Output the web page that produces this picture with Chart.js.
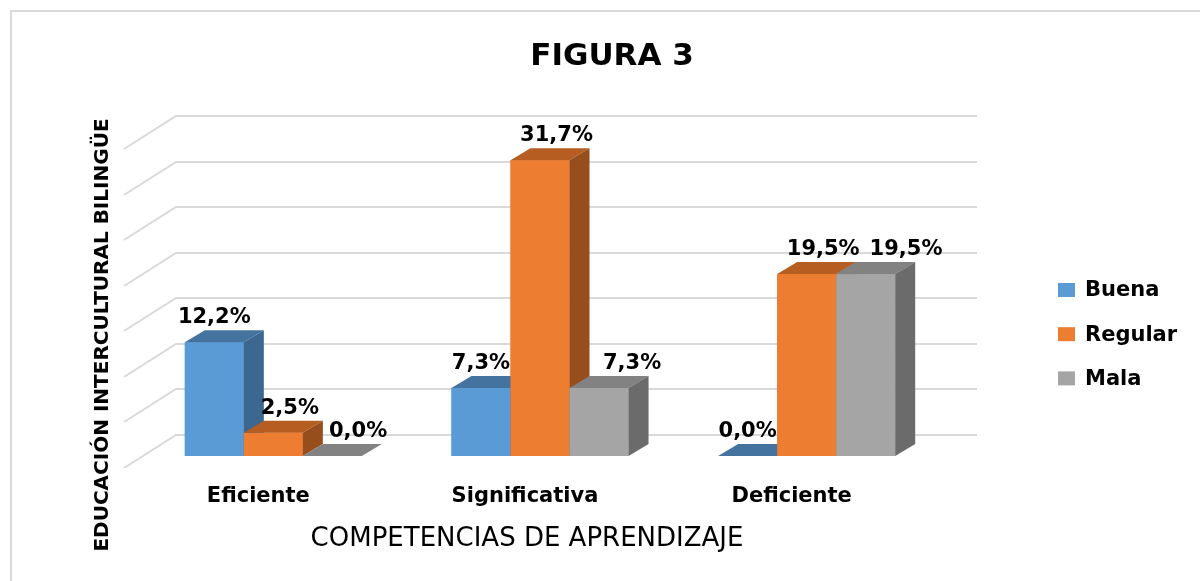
<!DOCTYPE html>
<html>
<head>
<meta charset="utf-8">
<script src="https://cdn.jsdelivr.net/npm/chart.js@4.4.1/dist/chart.umd.min.js"></script>
<style>
  html, body { margin: 0; padding: 0; background: #ffffff; overflow: hidden; }
  #wrap { width: 1200px; height: 581px; }
  canvas { display: block; }
</style>
</head>
<body>
<div id="wrap"><canvas id="c" width="1200" height="581"></canvas></div>
<script>
// ---- data ----
const categories = ['Eficiente', 'Significativa', 'Deficiente'];
const seriesNames = ['Buena', 'Regular', 'Mala'];
const buena = [12.2, 7.3, 0.0];
const regular = [2.5, 31.7, 19.5];
const mala = [0.0, 7.3, 19.5];
const wallTicks = [0, 5, 10, 15, 20, 25, 30, 35];
const chartTitle = 'FIGURA 3';
const xTitle = 'COMPETENCIAS DE APRENDIZAJE';
const yTitle = 'EDUCACIÓN INTERCULTURAL BILINGÜE';

// ---- styles ----
const frontColors = ['#5B9BD5', '#ED7D31', '#A5A5A5'];
const topColors = ['#44739F', '#B65D22', '#828282'];
const sideColors = ['#3B6791', '#974E1D', '#6B6B6B'];
const DX = 20, DY = 12;          // bar depth
const WALL_DX = 36;              // back wall shift
const FONT = '"DejaVu Sans", "Liberation Sans", sans-serif';

function fmt(v) { return v.toFixed(1).replace('.', ',') + '%'; }

const plugin3d = {
  id: 'plugin3d',
  beforeDraw(chart) {
    const ctx = chart.ctx;
    ctx.save();
    ctx.fillStyle = '#ffffff';
    ctx.fillRect(0, 0, chart.width, chart.height);
    ctx.strokeStyle = '#d9d9d9';
    ctx.lineWidth = 2;
    ctx.beginPath();
    ctx.moveTo(11, chart.height + 5);
    ctx.lineTo(11, 11);
    ctx.lineTo(chart.width + 5, 11);
    ctx.stroke();
    ctx.restore();
  },
  beforeDatasetsDraw(chart) {
    const ctx = chart.ctx;
    const a = chart.chartArea;
    const yw = chart.scales.yw;
    ctx.save();
    ctx.strokeStyle = '#d9d9d9';
    ctx.lineWidth = 2;
    wallTicks.forEach(v => {
      const y = Math.round(yw.getPixelForValue(v));
      ctx.beginPath();
      ctx.moveTo(a.left - 16, y + 33);
      ctx.lineTo(a.left + WALL_DX, y);
      ctx.lineTo(a.right + WALL_DX + 1, y);
      ctx.stroke();
    });
    ctx.restore();
  },
  afterDatasetsDraw(chart) {
    const ctx = chart.ctx;
    const a = chart.chartArea;
    const xs = chart.scales.x;
    const seriesVals = chart.data.datasets.map(d => d.data);
    ctx.save();
    // bars with depth, left to right in each group
    categories.forEach((c, j) => {
      seriesVals.forEach((vals, i) => {
        const el = chart.getDatasetMeta(i).data[j];
        const p = el.getProps(['x', 'y', 'base', 'width'], true);
        const l = p.x - p.width / 2, r = p.x + p.width / 2;
        const top = Math.min(p.y, p.base), bot = Math.max(p.y, p.base);
        // front
        ctx.fillStyle = frontColors[i];
        ctx.fillRect(l, top, r - l, bot - top);
        // top
        ctx.fillStyle = topColors[i];
        ctx.beginPath();
        ctx.moveTo(l, top); ctx.lineTo(r, top);
        ctx.lineTo(r + DX, top - DY); ctx.lineTo(l + DX, top - DY);
        ctx.closePath(); ctx.fill();
        // side
        if (bot - top > 0.5) {
          ctx.fillStyle = sideColors[i];
          ctx.beginPath();
          ctx.moveTo(r, top); ctx.lineTo(r + DX, top - DY);
          ctx.lineTo(r + DX, bot - DY); ctx.lineTo(r, bot);
          ctx.closePath(); ctx.fill();
        }
      });
    });
    // data labels
    ctx.font = 'bold 21px ' + FONT;
    ctx.fillStyle = '#000000';
    ctx.textAlign = 'left';
    ctx.textBaseline = 'alphabetic';
    categories.forEach((c, j) => {
      let prevLabelRight = -1e9;
      seriesVals.forEach((vals, i) => {
        const el = chart.getDatasetMeta(i).data[j];
        const p = el.getProps(['x', 'y', 'base', 'width'], true);
        const txt = fmt(vals[j]);
        const w = ctx.measureText(txt).width;
        let left = p.x - w / 2;
        if (i > 0 && seriesVals[i - 1][j] > vals[j]) {
          const pe = chart.getDatasetMeta(i - 1).data[j].getProps(['x', 'width'], true);
          left = Math.max(left, pe.x + pe.width / 2 + DX - 4);
        }
        left = Math.max(left, prevLabelRight + 10);
        ctx.fillText(txt, left, Math.min(p.y, p.base) - 19);
        prevLabelRight = left + w;
      });
    });
    // category labels
    ctx.font = 'bold 21px ' + FONT;
    ctx.textAlign = 'center';
    categories.forEach((c, j) => {
      ctx.fillText(c, xs.getPixelForValue(j) - 15, 502);
    });
    // x title
    ctx.font = '500 26px ' + FONT;
    ctx.fillText(xTitle, (a.left + a.right) / 2 - 13, 546);
    // chart title
    ctx.font = 'bold 31px ' + FONT;
    ctx.fillText(chartTitle, 612, 65);
    // y title
    ctx.save();
    ctx.translate(103, 335);
    ctx.rotate(-Math.PI / 2);
    ctx.font = 'bold 20px ' + FONT;
    ctx.textBaseline = 'middle';
    ctx.fillText(yTitle, 0, 0);
    ctx.restore();
    // legend
    ctx.font = 'bold 21px ' + FONT;
    ctx.textAlign = 'left';
    ctx.textBaseline = 'middle';
    seriesNames.forEach((n, i) => {
      const cy = 290 + i * 44.2;
      ctx.fillStyle = frontColors[i];
      ctx.fillRect(1058, cy - 7, 17, 14);
      ctx.fillStyle = '#000000';
      ctx.fillText(n, 1085, cy + 1);
    });
    ctx.restore();
  }
};

new Chart(document.getElementById('c'), {
  type: 'bar',
  data: {
    labels: categories,
    datasets: [
      { label: seriesNames[0], data: buena, backgroundColor: frontColors[0], yAxisID: 'y' },
      { label: seriesNames[1], data: regular, backgroundColor: frontColors[1], yAxisID: 'y' },
      { label: seriesNames[2], data: mala, backgroundColor: frontColors[2], yAxisID: 'y' }
    ]
  },
  options: {
    responsive: false,
    animation: false,
    events: [],
    layout: { padding: { left: 140, right: 260, top: 116, bottom: 125 } },
    datasets: { bar: { categoryPercentage: 0.664, barPercentage: 1.0, borderWidth: 0 } },
    plugins: { legend: { display: false }, title: { display: false }, tooltip: { enabled: false } },
    scales: {
      x: { type: 'category', display: false, offset: true },
      y: { display: false, min: 0, max: 36.44 },
      yw: { display: false, min: -2.304, max: 35, position: 'left' }
    }
  },
  plugins: [plugin3d]
});
</script>
</body>
</html>
